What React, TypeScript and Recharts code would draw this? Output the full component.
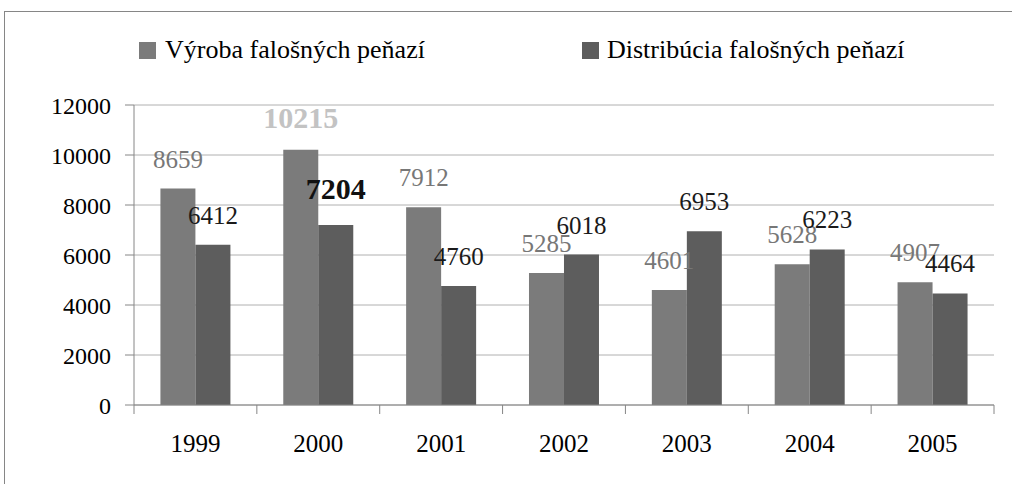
import { BarChart, Bar, XAxis, YAxis, CartesianGrid, LabelList } from "recharts";

const years = ["1999", "2000", "2001", "2002", "2003", "2004", "2005"];
const vyroba = [8659, 10215, 7912, 5285, 4601, 5628, 4907];
const distribucia = [6412, 7204, 4760, 6018, 6953, 6223, 4464];
const yTicks = [0, 2000, 4000, 6000, 8000, 10000, 12000];
const seriesNames = ["Výroba falošných peňazí", "Distribúcia falošných peňazí"];
const highlightYear = "2000";

const data = years.map((year, i) => ({
  year,
  vyroba: vyroba[i],
  distribucia: distribucia[i],
}));

const W = 1012;
const H = 484;
const FONT = "'Liberation Serif', 'Times New Roman', serif";
const margin = { top: 105, right: 18, bottom: 39, left: 0 };
const yAxisWidth = 134;
const band = (W - yAxisWidth - margin.right) / years.length;

function XTick(props: any) {
  const { x, y, payload, index } = props;
  const left = x - band / 2;
  return (
    <g>
      <line x1={left} x2={left} y1={y} y2={y + 9} stroke="#868686" />
      {index === years.length - 1 && (
        <line x1={x + band / 2} x2={x + band / 2} y1={y} y2={y + 9} stroke="#868686" />
      )}
      <text x={x} y={y + 47} textAnchor="middle" fontSize={25} fontFamily={FONT} fill="#000">
        {payload.value}
      </text>
    </g>
  );
}

function makeLabel(color: string, boldColor: string, boldOffset: number) {
  return (props: any) => {
    const { x, y, width, value, index } = props;
    const bold = years[index] === highlightYear;
    return (
      <text
        x={x + width / 2}
        y={y - (bold ? boldOffset : 21)}
        textAnchor="middle"
        fontSize={bold ? 30 : 25}
        fontWeight={bold ? "bold" : "normal"}
        fontFamily={FONT}
        fill={bold ? boldColor : color}
      >
        {value}
      </text>
    );
  };
}

const colors = ["#7b7b7b", "#5d5d5d"];

export default function App() {
  return (
    <div style={{ position: "absolute", left: 0, top: 0, width: W, height: H, overflow: "hidden", background: "#fff" }}>
      <div
        style={{
          position: "absolute",
          left: 4,
          top: 11,
          width: 1100,
          height: 600,
          border: "1px solid #868686",
        }}
      />
      <svg width={W} height={90} style={{ position: "absolute", left: 0, top: 0 }}>
        <rect x={139} y={42} width={17} height={17} fill={colors[0]} />
        <text x={165} y={58} fontSize={26} fontFamily={FONT} fill="#000">
          {seriesNames[0]}
        </text>
        <rect x={582} y={42} width={17} height={17} fill={colors[1]} />
        <text x={607} y={58} fontSize={26} fontFamily={FONT} fill="#000">
          {seriesNames[1]}
        </text>
      </svg>
      <div style={{ position: "absolute", left: 0, top: 0 }}>
        <BarChart width={W} height={H} data={data} margin={margin} barCategoryGap="21.5%" barGap={0}>
          <CartesianGrid vertical={false} stroke="#b0b0b0" />
          <XAxis
            dataKey="year"
            height={40}
            axisLine={{ stroke: "#868686" }}
            tickLine={false}
            tickSize={0}
            tickMargin={0}
            tick={<XTick />}
            interval={0}
          />
          <YAxis
            width={yAxisWidth}
            domain={[0, 12000]}
            ticks={yTicks}
            axisLine={{ stroke: "#868686" }}
            tickLine={{ stroke: "#868686" }}
            tickSize={9}
            tickMargin={14}
            tick={{ fontSize: 24, fontFamily: FONT, fill: "#000" }}
          />
          <Bar dataKey="vyroba" name={seriesNames[0]} fill={colors[0]} isAnimationActive={false}>
            <LabelList dataKey="vyroba" content={makeLabel("#777777", "#c3c3c3", 22)} />
          </Bar>
          <Bar dataKey="distribucia" name={seriesNames[1]} fill={colors[1]} isAnimationActive={false}>
            <LabelList dataKey="distribucia" content={makeLabel("#1a1a1a", "#111111", 26)} />
          </Bar>
        </BarChart>
      </div>
    </div>
  );
}
